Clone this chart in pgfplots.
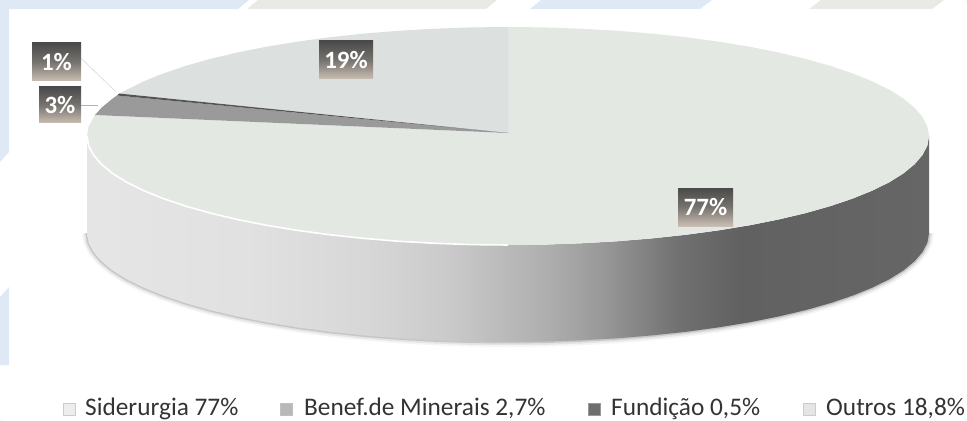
\documentclass[border=0pt]{standalone}
\usepackage{pgfplots}
\usepackage{fontspec}
\setmainfont{Carlito}
\pgfplotsset{compat=1.18}
\definecolor{bgblue}{HTML}{DFE9F5}
\definecolor{bggrey}{HTML}{E9E9E6}
\definecolor{topface}{HTML}{E4E8E3}
\definecolor{outros}{HTML}{DCE0DF}
\definecolor{benef}{HTML}{9A9A9A}
\definecolor{fund}{HTML}{555555}
\definecolor{labtop}{HTML}{4A4A4A}
\definecolor{labbot}{HTML}{C9BEB2}
\definecolor{nearwhite}{HTML}{FBFBFB}
\pgfdeclarehorizontalshading{sideshade}{100bp}{
 color(0bp)=(white!89!black);
 color(25bp)=(white!90!black);
 color(35bp)=(white!88!black);
 color(42bp)=(white!84!black);
 color(46.6bp)=(white!79!black);
 color(52.5bp)=(white!68!black);
 color(55.5bp)=(white!60!black);
 color(60.2bp)=(white!44!black);
 color(63.8bp)=(white!38!black);
 color(75bp)=(white!40!black);
 color(100bp)=(white!40!black)}
\pgfplotstableread{
x y
929 233
927.4 242.5
922.6 251.9
914.6 261.2
903.6 270.3
889.6 279.1
872.6 287.5
852.9 295.5
830.5 303.1
805.7 310.1
778.6 316.5
749.5 322.3
718.5 327.4
685.9 331.8
652 335.4
617 338.3
581.1 340.3
544.7 341.6
508 342
471.3 341.6
434.9 340.3
399 338.3
364 335.4
330.1 331.8
297.5 327.4
266.5 322.3
237.4 316.5
210.3 310.1
185.5 303.1
163.1 295.5
143.4 287.5
126.4 279.1
112.4 270.3
101.4 261.2
93.4 251.9
88.6 242.5
87 233
}\bottomarc
\pgfplotstableread{
x y
508 245
471.3 244.6
434.9 243.3
399 241.3
364 238.4
330.1 234.8
297.5 230.4
266.5 225.3
237.4 219.5
210.3 213.1
185.5 206.1
163.1 198.5
143.4 190.5
126.4 182.1
112.4 173.3
101.4 164.2
93.4 154.9
88.6 145.5
87 136
}\rimarc
\begin{document}
\begin{tikzpicture}
\begin{axis}[
  width=967bp,height=421bp,scale only axis,
  xmin=0,xmax=967,ymin=0,ymax=421,y dir=reverse,
  hide axis,
  clip=true,
]
% faint corner anchors
\addplot[fill=nearwhite,draw=none] coordinates {(964,0)(967,0)(967,3)(964,3)} -- cycle;
\addplot[fill=nearwhite,draw=none] coordinates {(964,418)(967,418)(967,421)(964,421)} -- cycle;
\addplot[fill=nearwhite,draw=none] coordinates {(0,418)(3,418)(3,421)(0,421)} -- cycle;
% background strips
\addplot[fill=bgblue,draw=none] coordinates {(0,0)(249,0)(238,9)(9,9)(9,152)(0,162)} -- cycle;
\addplot[fill=bgblue,draw=none] coordinates {(0,297)(9,287)(9,365)(0,365)} -- cycle;
\addplot[fill=bggrey,draw=none] coordinates {(258,0)(497,0)(486,9)(247,9)} -- cycle;
\addplot[fill=bgblue,draw=none] coordinates {(541,0)(712,0)(700,9)(530,9)} -- cycle;
\addplot[fill=bggrey,draw=none] coordinates {(821,0)(944,0)(932,9)(809,9)} -- cycle;
% shadow
\addplot[draw=black,opacity=.04,line width=10bp,no marks] table {\bottomarc};
\addplot[draw=black,opacity=.07,line width=6.5bp,no marks] table {\bottomarc};
\addplot[draw=black,opacity=.13,line width=3bp,no marks] table {\bottomarc};
% side wall
\addplot[shading=sideshade,draw=none] coordinates {
(929,136)(927.4,145.5)(922.6,154.9)(914.6,164.2)(903.6,173.3)(889.6,182.1)(872.6,190.5)(852.9,198.5)(830.5,206.1)(805.7,213.1)(778.6,219.5)(749.5,225.3)(718.5,230.4)(685.9,234.8)(652,238.4)(617,241.3)(581.1,243.3)(544.7,244.6)(508,245)(471.3,244.6)(434.9,243.3)(399,241.3)(364,238.4)(330.1,234.8)(297.5,230.4)(266.5,225.3)(237.4,219.5)(210.3,213.1)(185.5,206.1)(163.1,198.5)(143.4,190.5)(126.4,182.1)(112.4,173.3)(101.4,164.2)(93.4,154.9)(88.6,145.5)(87,136)
(87,233)(88.6,242.5)(93.4,251.9)(101.4,261.2)(112.4,270.3)(126.4,279.1)(143.4,287.5)(163.1,295.5)(185.5,303.1)(210.3,310.1)(237.4,316.5)(266.5,322.3)(297.5,327.4)(330.1,331.8)(364,335.4)(399,338.3)(434.9,340.3)(471.3,341.6)(508,342)(544.7,341.6)(581.1,340.3)(617,338.3)(652,335.4)(685.9,331.8)(718.5,327.4)(749.5,322.3)(778.6,316.5)(805.7,310.1)(830.5,303.1)(852.9,295.5)(872.6,287.5)(889.6,279.1)(903.6,270.3)(914.6,261.2)(922.6,251.9)(927.4,242.5)(929,233)
} -- cycle;
% Siderurgia 77%
\addplot[fill=topface,draw=none] coordinates {
(508,133)(508,27)(544.7,27.4)(581.1,28.7)(617,30.7)(652,33.6)(685.9,37.2)(718.5,41.6)(749.5,46.7)(778.6,52.5)(805.7,58.9)(830.5,65.9)(852.9,73.5)(872.6,81.5)(889.6,89.9)(903.6,98.7)(914.6,107.8)(922.6,117.1)(927.4,126.5)(929,136)
(927.4,145.5)(922.6,154.9)(914.6,164.2)(903.6,173.3)(889.6,182.1)(872.6,190.5)(852.9,198.5)(830.5,206.1)(805.7,213.1)(778.6,219.5)(749.5,225.3)(718.5,230.4)(685.9,234.8)(652,238.4)(617,241.3)(581.1,243.3)(544.7,244.6)(508,245)(471.3,244.6)(434.9,243.3)(399,241.3)(364,238.4)(330.1,234.8)(297.5,230.4)(266.5,225.3)(237.4,219.5)(210.3,213.1)(185.5,206.1)(163.1,198.5)(143.4,190.5)(126.4,182.1)(112.4,173.3)(101.4,164.2)(93.4,154.9)(88.6,145.5)(87,136)(88.6,126.5)(95,115)
} -- cycle;
% Outros 18.8%
\addplot[fill=outros,draw=none] coordinates {
(508,133)(119,93.5)(126.4,89.9)(143.4,81.5)(163.1,73.5)(185.5,65.9)(210.3,58.9)(237.4,52.5)(266.5,46.7)(297.5,41.6)(330.1,37.2)(364,33.6)(399,30.7)(434.9,28.7)(471.3,27.4)(508,27)
} -- cycle;
% Benef. de Minerais 2.7%
\addplot[fill=benef,draw=none] coordinates {(508,133)(95,115)(101.4,107.8)(112.4,98.7)(117,95.5)} -- cycle;
% Fundicao 0.5%
\addplot[fill=fund,draw=none] coordinates {(508,133)(117,95.5)(119,93.5)} -- cycle;
% rim highlight
\addplot[draw=white,line width=1.6bp,no marks] table {\rimarc};
% leader lines
\addplot[draw=white!85!black,line width=.6bp,no marks] coordinates {(81,58)(116,92)};
\addplot[draw=white!70!black,line width=.6bp,no marks] coordinates {(81,105)(98,105)};
% legend swatches
\addplot[only marks,mark=square*,mark size=6bp,mark options={fill=white!93!black,draw=white!80!black}] coordinates {(69,409)};
\addplot[only marks,mark=square*,mark size=6bp,mark options={fill=benef!70!white,draw=white!75!black}] coordinates {(286,409)};
\addplot[only marks,mark=square*,mark size=6bp,mark options={fill=fund!85!white,draw=white!60!black}] coordinates {(594,409)};
\addplot[only marks,mark=square*,mark size=6bp,mark options={fill=white!90!black,draw=white!80!black}] coordinates {(809,409)};
% value labels
\tikzset{lab/.style={top color=labtop,bottom color=labbot,middle color=labtop!65!labbot,text=white,inner sep=0pt,font=\fontsize{25}{27}\selectfont\bfseries,align=center,anchor=center}}
\node[lab,minimum width=49bp,minimum height=38bp] at (axis cs:56.5,62) {1\%};
\node[lab,minimum width=42bp,minimum height=36bp] at (axis cs:60,105) {3\%};
\node[lab,minimum width=54bp,minimum height=38bp] at (axis cs:346,60) {19\%};
\node[lab,minimum width=55bp,minimum height=38bp] at (axis cs:705.5,207) {77\%};
% legend text
\tikzset{leg/.style={anchor=base west,inner sep=0pt,text depth=0pt,text=black!80,font=\fontsize{25.4}{27}\selectfont}}
\node[leg] at (axis cs:85,415.5) {Siderurgia 77\%};
\node[leg] at (axis cs:304,415.5) {Benef.de Minerais 2,7\%};
\node[leg] at (axis cs:611,415.5) {Fundição 0,5\%};
\node[leg] at (axis cs:826,415.5) {Outros 18,8\%};
\end{axis}
\end{tikzpicture}
\end{document}
